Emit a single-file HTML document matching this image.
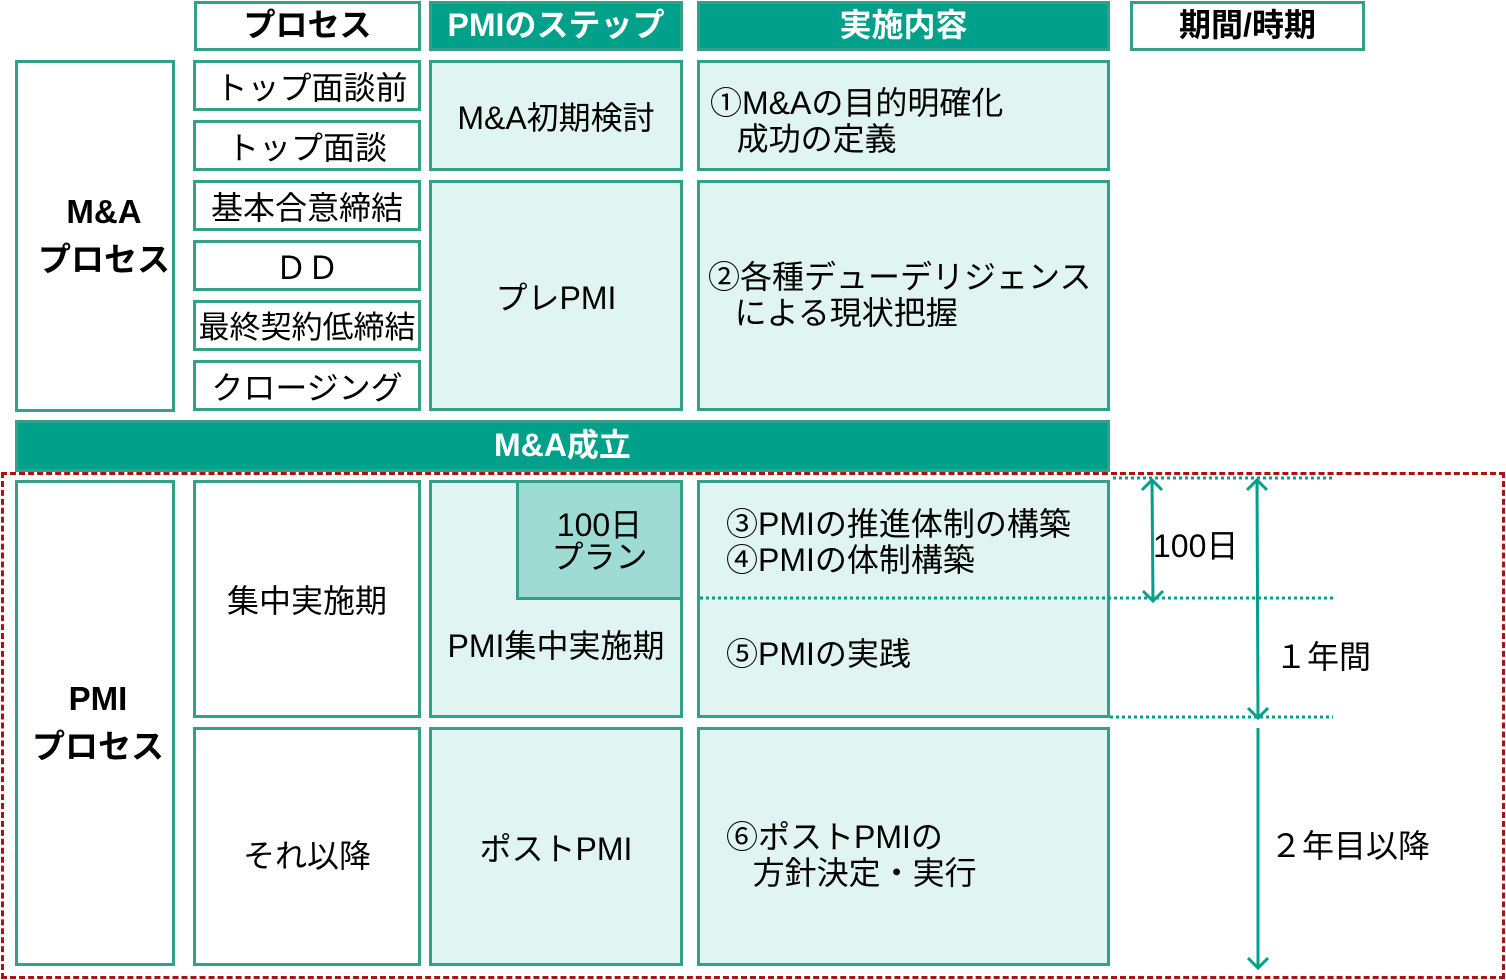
<!DOCTYPE html>
<html><head><meta charset="utf-8"><style>
body{margin:0;width:1506px;height:980px;background:#fff;position:relative;overflow:hidden;font-family:"Liberation Sans","Noto Sans CJK JP",sans-serif;color:#000}
.b{position:absolute;box-sizing:border-box;border:3px solid #33a18a;background:#fff;display:flex;align-items:center;justify-content:center;font-size:32px;line-height:1.12;text-align:center;padding-top:6px;white-space:nowrap}
.f{background:#e0f4f1}
.h{background:#00a08a;color:#fff;font-weight:bold;padding-top:0}
.bold{font-weight:bold}
.l{justify-content:flex-start;text-align:left}
</style></head><body>
<div class="b bold" style="left:194px;top:1px;width:227px;height:50px;padding-top:0">プロセス</div>
<div class="b h" style="left:429px;top:1px;width:254px;height:50px">PMIのステップ</div>
<div class="b h" style="left:697px;top:1px;width:413px;height:50px">実施内容</div>
<div class="b bold" style="left:1130px;top:1px;width:235px;height:50px;padding-top:0">期間/時期</div>

<div class="b bold" style="left:15px;top:60px;width:160px;height:352px;font-size:33px;line-height:1.45;padding:0 0 0 18px">M&amp;A<br>プロセス</div>
<div class="b" style="left:193px;top:60px;width:228px;height:51px">&nbsp;トップ面談前</div>
<div class="b" style="left:193px;top:120px;width:228px;height:51px">トップ面談</div>
<div class="b" style="left:193px;top:180px;width:228px;height:51px">基本合意締結</div>
<div class="b" style="left:193px;top:240px;width:228px;height:51px">ＤＤ</div>
<div class="b" style="left:193px;top:300px;width:228px;height:51px;font-size:31px">最終契約低締結</div>
<div class="b" style="left:193px;top:360px;width:228px;height:51px">クロージング</div>
<div class="b f" style="left:429px;top:60px;width:254px;height:111px">M&amp;A初期検討</div>
<div class="b f" style="left:429px;top:180px;width:254px;height:231px">プレPMI</div>
<div class="b f l" style="left:697px;top:60px;width:413px;height:111px;padding:12px 0 0 10px">①M&amp;Aの目的明確化<br>&nbsp;&nbsp;&nbsp;成功の定義</div>
<div class="b f l" style="left:697px;top:180px;width:413px;height:231px;padding:0 0 0 8px">②各種デューデリジェンス<br>&nbsp;&nbsp;&nbsp;による現状把握</div>

<div class="b h" style="left:15px;top:420px;width:1095px;height:52px">M&amp;A成立</div>

<div style="position:absolute;left:1px;top:472px;width:1504px;height:507px;box-sizing:border-box;border:3px dashed #b01010"></div>

<div class="b bold" style="left:15px;top:480px;width:160px;height:486px;font-size:33px;line-height:1.45;padding:0 0 0 6px">PMI<br>プロセス</div>
<div class="b" style="left:193px;top:480px;width:228px;height:238px">集中実施期</div>
<div class="b" style="left:193px;top:727px;width:228px;height:239px;padding-top:20px">それ以降</div>
<div class="b f" style="left:429px;top:480px;width:254px;height:238px;padding-top:96px">PMI集中実施期</div>
<div class="b" style="left:516px;top:480px;width:167px;height:120px;background:#9edbd3;line-height:1.0;padding-top:2px">100日<br>プラン</div>
<div class="b f" style="left:429px;top:727px;width:254px;height:239px">ポストPMI</div>
<div class="b f l" style="left:697px;top:480px;width:413px;height:238px;display:block;padding:24px 0 0 26px">③PMIの推進体制の構築<br>④PMIの体制構築<div style="margin-top:58px">⑤PMIの実践</div></div>
<div class="b f l" style="left:697px;top:727px;width:413px;height:239px;padding:18px 0 0 26px">⑥ポストPMIの<br>&nbsp;&nbsp;&nbsp;方針決定・実行</div>

<svg style="position:absolute;left:0;top:0" width="1506" height="980">
<g stroke="#00a08a" stroke-width="3" stroke-dasharray="3,3">
<line x1="1113" y1="478" x2="1333" y2="478"/>
<line x1="700" y1="598" x2="1333" y2="598"/>
<line x1="1110" y1="717" x2="1333" y2="717"/>
</g>
<g stroke="#00a08a" stroke-width="3" fill="none">
<line x1="1152" y1="480" x2="1153" y2="601"/>
<polyline points="1142,490 1152,480 1162,490"/>
<polyline points="1143,591 1153,601 1163,591"/>
<line x1="1257" y1="480" x2="1258" y2="718"/>
<polyline points="1247,490 1257,480 1267,490"/>
<polyline points="1248,708 1258,718 1268,708"/>
<line x1="1258" y1="728" x2="1258" y2="968"/>
<polyline points="1248,958 1258,968 1268,958"/>
</g>
<g font-family="Liberation Sans,Noto Sans CJK JP,sans-serif" font-size="32" fill="#000">
<text x="1153" y="557">100日</text>
<text x="1275" y="668">１年間</text>
<text x="1270" y="857">２年目以降</text>
</g>
</svg>
</body></html>
